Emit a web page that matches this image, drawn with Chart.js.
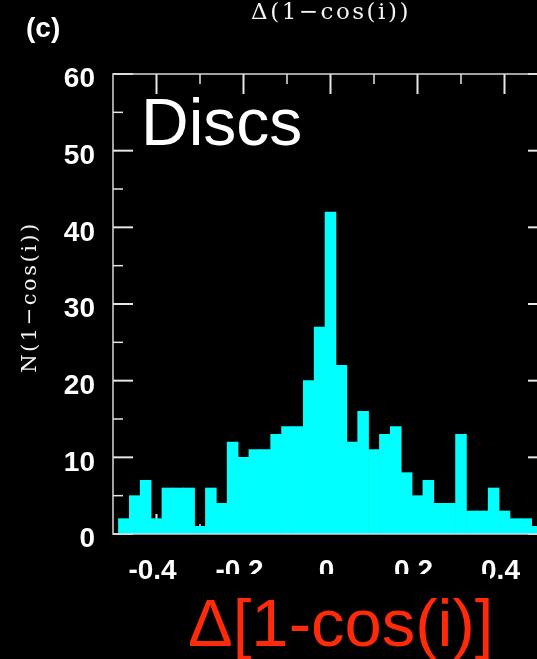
<!DOCTYPE html>
<html>
<head>
<meta charset="utf-8">
<script src="https://cdn.jsdelivr.net/npm/chart.js@4/dist/chart.umd.min.js"></script>
<style>
  html, body { margin: 0; padding: 0; background: #000; overflow: hidden; }
  #wrap { width: 537px; height: 659px; overflow: hidden; position: relative; }
  canvas { display: block; }
</style>
</head>
<body>
<div id="wrap"><canvas id="c" width="560" height="659"></canvas></div>
<script>
// ---- data ----
const binCenters = [-0.475, -0.45, -0.425, -0.4, -0.375, -0.35, -0.325, -0.3, -0.275, -0.25,
                    -0.225, -0.2, -0.175, -0.15, -0.125, -0.1, -0.075, -0.05, -0.025, 0,
                    0.025, 0.05, 0.075, 0.1, 0.125, 0.15, 0.175, 0.2, 0.225, 0.25,
                    0.275, 0.3, 0.325, 0.35, 0.375, 0.4, 0.425, 0.45, 0.475];
const counts = [2, 5, 7, 2, 6, 6, 6, 1, 6, 4,
                12, 10, 11, 11, 13, 14, 14, 20, 27, 42,
                22, 12, 16, 11, 13, 14, 8, 5, 7, 4,
                4, 13, 3, 3, 6, 3, 2, 2, 1];
const xTickValues = [-0.4, -0.2, 0, 0.2, 0.4];
const xTickLabels = ['-0.4', '-0.2', '0', '0.2', '0.4'];
const xMinorValues = [-0.3, -0.1, 0.1, 0.3];
const yTickValues = [0, 10, 20, 30, 40, 50, 60];
const yTickLabels = ['0', '10', '20', '30', '40', '50', '60'];
const yMinorValues = [5, 15, 25, 35, 45, 55];
const titleText = 'Δ(1\u2212cos(i))';
const yTitleText = 'N(1\u2212cos(i))';
const xTitleText = 'Δ[1-cos(i)]';
const panelLabel = '(c)';
const insetLabel = 'Discs';

const SANS = '"Liberation Sans", Arial, Helvetica, sans-serif';
const SERIF = '"DejaVu Serif", "Liberation Serif", serif';

const framePlugin = {
  id: 'frame',
  beforeDatasetsDraw(chart) {
    const {ctx, chartArea: a, scales: {x, y}} = chart;
    ctx.save();
    ctx.strokeStyle = '#e6e6e6';
    const tick = (x1, y1, x2, y2, w) => { ctx.lineWidth = w; ctx.beginPath(); ctx.moveTo(x1, y1); ctx.lineTo(x2, y2); ctx.stroke(); };
    const MJ = 20, MN = 10;
    xTickValues.forEach(v => { const px = x.getPixelForValue(v); tick(px, a.bottom, px, a.bottom - MJ, 2); tick(px, a.top, px, a.top + MJ, 2); });
    xMinorValues.forEach(v => { const px = x.getPixelForValue(v); tick(px, a.bottom, px, a.bottom - MN, 1.5); tick(px, a.top, px, a.top + MN, 1.5); });
    yTickValues.forEach(v => { const py = y.getPixelForValue(v); tick(a.left, py, a.left + MJ, py, 2); tick(a.right, py, a.right - MJ, py, 2); });
    yMinorValues.forEach(v => { const py = y.getPixelForValue(v); tick(a.left, py, a.left + MN, py, 1.5); tick(a.right, py, a.right - MN, py, 1.5); });
    ctx.restore();
  },
  afterDatasetsDraw(chart) {
    const {ctx, chartArea: a} = chart;
    ctx.save();
    ctx.strokeStyle = '#d8d8d8';
    ctx.lineWidth = 1.5;
    ctx.strokeRect(a.left, a.top, a.right - a.left, a.bottom - a.top);
    ctx.restore();
  },
  afterDraw(chart) {
    const {ctx} = chart;
    ctx.save();
    // panel label
    ctx.fillStyle = '#ffffff';
    ctx.textAlign = 'left';
    ctx.textBaseline = 'alphabetic';
    ctx.font = 'bold 28px ' + SANS;
    ctx.fillText(panelLabel, 26, 37);
    // title
    ctx.fillStyle = '#f4f4f4';
    ctx.font = '23px ' + SERIF;
    ctx.letterSpacing = '2.5px';
    ctx.textAlign = 'center';
    ctx.fillText(titleText, 331, 19);
    // y title
    ctx.save();
    ctx.translate(36, 298);
    ctx.rotate(-Math.PI / 2);
    ctx.font = '21px ' + SERIF;
    ctx.letterSpacing = '2.5px';
    ctx.fillText(yTitleText, 1, 0);
    ctx.restore();
    ctx.letterSpacing = '0px';
    // inset label
    ctx.fillStyle = '#ffffff';
    ctx.textAlign = 'left';
    ctx.font = '66px ' + SANS;
    ctx.fillText(insetLabel, 141, 145);
    // mask behind the red axis label (clips the tick labels as in the original)
    ctx.fillStyle = '#000000';
    ctx.fillRect(190, 574, 300, 85);
    // red x title
    ctx.fillStyle = '#ff2a0a';
    ctx.font = '67px ' + SANS;
    ctx.fillText(xTitleText, 188, 646);
    ctx.restore();
  }
};

new Chart(document.getElementById('c'), {
  type: 'bar',
  data: {
    datasets: [{
      data: binCenters.map((c, i) => ({x: c, y: counts[i]})),
      backgroundColor: '#00ffff',
      borderWidth: 0,
      barPercentage: 1,
      categoryPercentage: 1
    }]
  },
  options: {
    responsive: false,
    animation: false,
    devicePixelRatio: 1,
    layout: {padding: {top: 74, right: 12, left: 0, bottom: 0}},
    plugins: {legend: {display: false}, tooltip: {enabled: false}, title: {display: false}},
    scales: {
      x: {
        type: 'linear', min: -0.5, max: 0.5, offset: false,
        grid: {display: false, drawTicks: false},
        border: {display: false},
        afterBuildTicks: s => { s.ticks = xTickValues.map(v => ({value: v})); },
        afterFit: s => { s.height = 125; },
        ticks: {
          color: '#ffffff', autoSkip: false, maxRotation: 0, minRotation: 0,
          font: {family: SANS, size: 28, weight: 'bold'},
          padding: 20, labelOffset: -4,
          callback: (v, i) => xTickLabels[i]
        }
      },
      y: {
        min: 0, max: 60,
        grid: {display: false, drawTicks: false},
        border: {display: false},
        afterBuildTicks: s => { s.ticks = yTickValues.map(v => ({value: v})); },
        afterFit: s => { s.width = 113; },
        ticks: {
          color: '#ffffff',
          font: {family: SANS, size: 28, weight: 'bold'},
          padding: 18, labelOffset: 5.5,
          callback: (v, i) => yTickLabels[i]
        }
      }
    }
  },
  plugins: [framePlugin]
});
</script>
</body>
</html>
